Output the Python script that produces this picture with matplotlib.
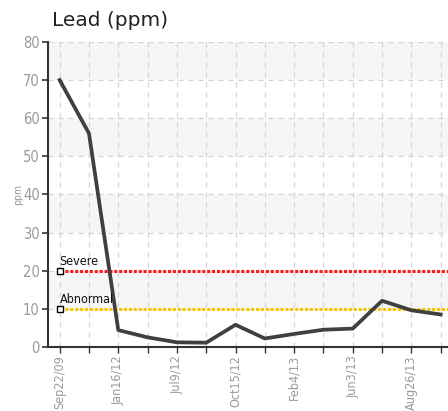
import matplotlib.pyplot as plt

# data
dates = ["Sep22/09", "", "Jan16/12", "", "Jul9/12", "", "Oct15/12", "",
         "Feb4/13", "", "Jun3/13", "", "Aug26/13", ""]
lead = [70, 56, 4.4, 2.5, 1.2, 1.1, 5.8, 2.2, 3.4, 4.5, 4.8, 12.1, 9.6, 8.5]
limit_names = ["Severe", "Abnormal"]
limit_values = [20, 10]
limit_colors = ["#ff1a1a", "#f7c600"]

cond = dict(family="DejaVu Sans", stretch="condensed")

fig = plt.figure(figsize=(4.48, 4.11), dpi=100)
ax = fig.add_axes([0.107, 0.156, 0.893, 0.742])

x = list(range(len(lead)))

# alternating bands
for lo in range(10, 80, 20):
    ax.axhspan(lo, lo + 10, color="#f6f6f6", zorder=0, lw=0)

ax.set_xlim(-0.4, len(lead) - 1 + 0.25)
ax.set_ylim(0, 80)

ax.grid(True, color="#d4d4d4", linestyle=(0, (4, 4)), linewidth=0.9, zorder=1)
ax.set_axisbelow(True)

for name, val, col in zip(limit_names, limit_values, limit_colors):
    ax.plot([0, x[-1] + 1], [val, val], color=col, lw=2.2, ls=(0, (1, 0.6)),
            zorder=3)
    ax.plot([0], [val], marker="s", ms=4.5, mfc="white", mec="black",
            mew=1, zorder=5, clip_on=False)
    ax.text(0, val + 0.7, name, fontsize=9, color="#111111",
            ha="left", va="bottom", zorder=6, **cond)

ax.plot(x, lead, color="#404040", lw=2.7, zorder=4)

ax.set_xticks(x)
ax.set_xticklabels(dates, rotation=90, fontsize=9, color="#999999", **cond)
ax.set_yticks(range(0, 81, 10))
ax.set_yticklabels([str(v) for v in range(0, 81, 10)], fontsize=10.5,
                   color="#999999", **cond)
ax.tick_params(axis="y", color="#333333", length=4, width=1.2, pad=2)
ax.tick_params(axis="x", color="#333333", length=4, width=1, pad=2)

for s in ["top", "right"]:
    ax.spines[s].set_visible(False)
for s in ["left", "bottom"]:
    ax.spines[s].set_color("#333333")
    ax.spines[s].set_linewidth(1.5)

ax.set_ylabel("ppm", fontsize=7.5, color="#999999", **cond)
ax.yaxis.set_label_coords(-0.063, 0.5)
fig.text(0.116, 0.95, "Lead (ppm)", fontsize=14.5, color="#222222", ha="left",
         va="center")

fig.savefig("out.png", dpi=100)
